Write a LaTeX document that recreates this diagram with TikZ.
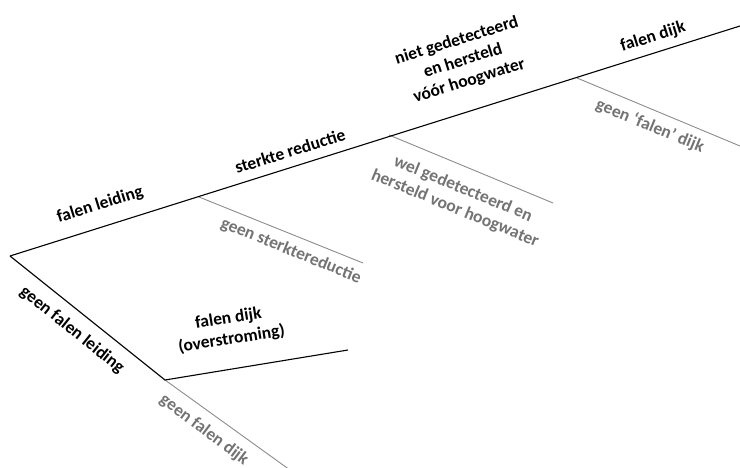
\documentclass[tikz,border=0pt]{standalone}
\usepackage{fontspec}
\setsansfont{Carlito}
\usepackage{tikz}

\begin{document}
\begin{tikzpicture}[x=1pt, y=-1pt]
  \tikzset{yes line/.style={draw=black, line width=1.1pt},
           no line/.style={draw=black!45, line width=0.9pt},
           yes label/.style={font=\sffamily\bfseries\fontsize{17.5}{21}\selectfont, text=black, align=center, inner sep=0pt},
           no label/.style={yes label, text=black!55}}
  \useasboundingbox (0,0) rectangle (740,468);
  % branch points
  \coordinate (root) at (10,256);
  \coordinate (leiding) at (199,197);
  \coordinate (reductie) at (389,135);
  \coordinate (hoogwater) at (577,78);
  \coordinate (dijkA) at (165,380);
  % loose ends
  \coordinate (endA) at (740,26);
  \coordinate (endB) at (740,146);
  \coordinate (endC) at (553,203);
  \coordinate (endD) at (363,263);
  \coordinate (endE) at (348,350);
  \coordinate (endF) at (290,470);
  % lines
  \draw[no line] (leiding) -- (endD);
  \draw[no line] (reductie) -- (endC);
  \draw[no line] (hoogwater) -- (endB);
  \draw[no line] (dijkA) -- (endF);
  \draw[yes line] (root) -- (endA);
  \draw[yes line] (root) -- (dijkA) -- (endE);
  % labels
  \node[yes label, rotate=17.4] (faalLeiding) at (100,205) {falen leiding};
  \node[yes label, rotate=17.4] (sterkte) at (290,151) {sterkte reductie};
  \node[yes label, rotate=17.4] (nietGedet) at (463,61) {niet gedetecteerd\\en hersteld\\vóór hoogwater};
  \node[yes label, rotate=17.4] (faalDijk) at (653,37) {falen dijk};
  \node[no label, rotate=-22.3] (geenFaalDijk) at (650,126) {geen ‘falen’ dijk};
  \node[no label, rotate=-22.3] (welGedet) at (459,199) {wel gedetecteerd en\\hersteld voor hoogwater};
  \node[no label, rotate=-22] (geenSterkte) at (291,251) {geen sterktereductie};
  \node[no label, rotate=-38.7, text=black] (geenLeiding) at (72,330) {geen falen leiding};
  \node[yes label, rotate=9] (overstroming) at (230,329) {falen dijk\\(overstroming)};
  \node[no label, rotate=-37] (geenDijk) at (204,430) {geen falen dijk};
\end{tikzpicture}
\end{document}
